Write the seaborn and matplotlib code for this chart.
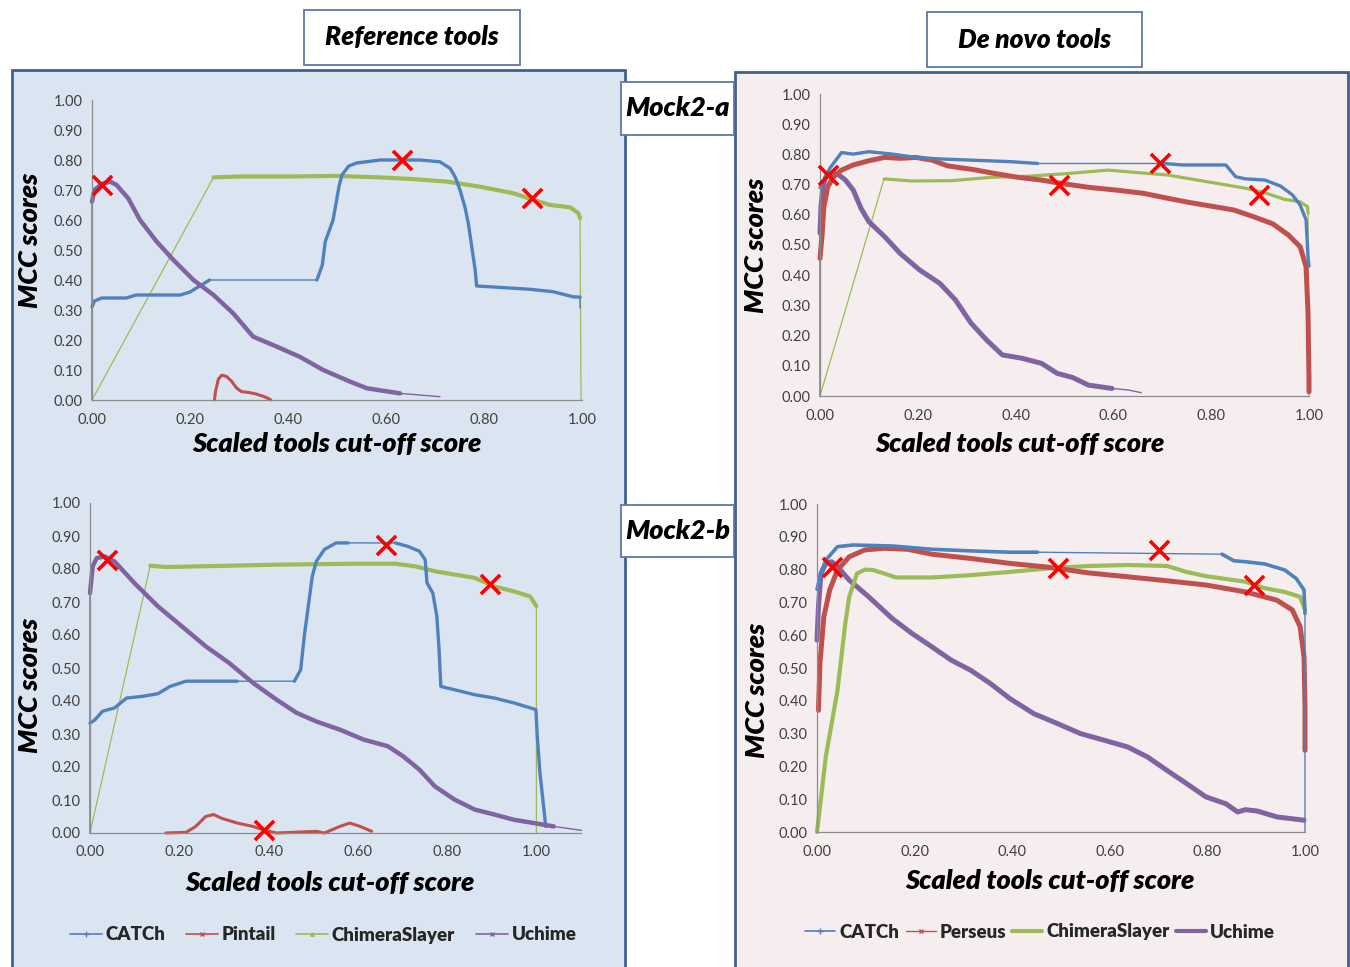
import matplotlib
matplotlib.use("Agg")
import matplotlib.pyplot as plt
from matplotlib.patches import Rectangle
from matplotlib.lines import Line2D
from matplotlib.ticker import FormatStrFormatter
import seaborn as sns

# colours (Excel 2007 palette)
BLUE = "#4f81bd"
RED = "#c0504d"
GREEN = "#9bbb59"
PURPLE = "#8064a2"

# 1: DATA - Mock2-a, reference tools
a_ref_catch_x = [0.0, 0.005, 0.02, 0.07, 0.09, 0.15, 0.18, 0.20, 0.22, 0.24, 0.30, 0.459, 0.47, 0.476,
                 0.492, 0.504, 0.51, 0.524, 0.54, 0.588, 0.669, 0.71, 0.731, 0.741, 0.751, 0.761, 0.768,
                 0.775, 0.782, 0.785, 0.826, 0.894, 0.941, 0.982, 0.996, 0.996]
a_ref_catch_y = [0.31, 0.33, 0.34, 0.34, 0.35, 0.35, 0.35, 0.36, 0.38, 0.40, 0.40, 0.40, 0.45, 0.528,
                 0.60, 0.711, 0.75, 0.78, 0.79, 0.80, 0.80, 0.794, 0.772, 0.744, 0.70, 0.644, 0.589,
                 0.511, 0.433, 0.38, 0.376, 0.369, 0.361, 0.344, 0.343, 0.306]
a_ref_pintail_x = [0.25, 0.252, 0.258, 0.265, 0.275, 0.285, 0.295, 0.305, 0.32, 0.335, 0.35, 0.36, 0.365]
a_ref_pintail_y = [0.0, 0.028, 0.07, 0.083, 0.078, 0.062, 0.04, 0.028, 0.025, 0.02, 0.012, 0.005, 0.0]
a_ref_slayer_x = [0.0, 0.248, 0.30, 0.40, 0.50, 0.588, 0.65, 0.724, 0.792, 0.86, 0.901, 0.935, 0.976,
                  0.993, 0.996, 0.998]
a_ref_slayer_y = [0.0, 0.742, 0.745, 0.745, 0.747, 0.742, 0.737, 0.728, 0.711, 0.689, 0.667, 0.65, 0.642,
                  0.622, 0.606, 0.0]
a_ref_uchime_x = [0.0, 0.0, 0.005, 0.02, 0.037, 0.05, 0.074, 0.098, 0.132, 0.166, 0.207, 0.248, 0.288,
                  0.329, 0.377, 0.424, 0.472, 0.527, 0.561, 0.629, 0.71]
a_ref_uchime_y = [0.0, 0.661, 0.70, 0.72, 0.728, 0.717, 0.672, 0.60, 0.528, 0.467, 0.40, 0.35, 0.289,
                  0.211, 0.178, 0.144, 0.10, 0.061, 0.039, 0.022, 0.011]
a_ref_best_x = [0.021, 0.632, 0.898]
a_ref_best_y = [0.717, 0.80, 0.673]

# 2: DATA - Mock2-a, de novo tools
a_dn_catch_x = [0.0, 0.02, 0.044, 0.068, 0.10, 0.148, 0.196, 0.245, 0.309, 0.389, 0.445, 0.702, 0.742,
                0.83, 0.85, 0.87, 0.91, 0.942, 0.966, 0.982, 0.994, 0.998, 1.0]
a_dn_catch_y = [0.69, 0.754, 0.806, 0.801, 0.809, 0.801, 0.79, 0.785, 0.781, 0.776, 0.77, 0.77, 0.765,
                0.765, 0.726, 0.719, 0.715, 0.695, 0.666, 0.632, 0.583, 0.461, 0.43]
a_dn_perseus_x = [0.0, 0.004, 0.008, 0.016, 0.028, 0.044, 0.068, 0.10, 0.132, 0.164, 0.196, 0.229, 0.261,
                  0.309, 0.357, 0.405, 0.453, 0.493, 0.549, 0.605, 0.662, 0.71, 0.758, 0.806, 0.846,
                  0.886, 0.926, 0.958, 0.982, 0.994, 0.998, 1.0, 1.0]
a_dn_perseus_y = [0.456, 0.528, 0.627, 0.693, 0.726, 0.748, 0.765, 0.779, 0.79, 0.787, 0.79, 0.781, 0.762,
                  0.751, 0.737, 0.724, 0.715, 0.704, 0.691, 0.682, 0.671, 0.655, 0.64, 0.627, 0.616,
                  0.594, 0.57, 0.533, 0.494, 0.428, 0.274, 0.053, 0.014]
a_dn_slayer_x = [0.0, 0.131, 0.188, 0.269, 0.349, 0.429, 0.509, 0.589, 0.67, 0.71, 0.79, 0.87, 0.91, 0.95,
                 0.982, 0.997, 0.998, 1.0]
a_dn_slayer_y = [0.0, 0.719, 0.712, 0.713, 0.724, 0.728, 0.737, 0.748, 0.737, 0.732, 0.71, 0.688, 0.673,
                 0.651, 0.643, 0.627, 0.605, 0.0]
a_dn_uchime_x = [0.0, 0.0, 0.002, 0.006, 0.012, 0.024, 0.036, 0.052, 0.068, 0.084, 0.10, 0.132, 0.164,
                 0.204, 0.245, 0.277, 0.309, 0.341, 0.373, 0.413, 0.453, 0.485, 0.517, 0.549, 0.597,
                 0.63, 0.657]
a_dn_uchime_y = [0.0, 0.539, 0.627, 0.693, 0.726, 0.737, 0.735, 0.715, 0.682, 0.621, 0.577, 0.528, 0.472,
                 0.417, 0.373, 0.318, 0.241, 0.185, 0.136, 0.125, 0.108, 0.075, 0.061, 0.036, 0.025,
                 0.02, 0.011]
a_dn_best_x = [0.016, 0.489, 0.696, 0.898]
a_dn_best_y = [0.732, 0.699, 0.77, 0.666]

# 3: DATA - Mock2-b, reference tools
b_ref_catch_x = [0.0, 0.011, 0.028, 0.055, 0.082, 0.117, 0.152, 0.179, 0.215, 0.259, 0.33, 0.458, 0.472,
                 0.48, 0.489, 0.498, 0.507, 0.525, 0.551, 0.578, 0.684, 0.711, 0.738, 0.751, 0.755,
                 0.768, 0.777, 0.782, 0.786, 0.817, 0.862, 0.906, 0.95, 0.999, 1.002, 1.008, 1.017, 1.021]
b_ref_catch_y = [0.333, 0.343, 0.369, 0.379, 0.409, 0.414, 0.422, 0.444, 0.46, 0.46, 0.46, 0.46, 0.495,
                 0.596, 0.687, 0.778, 0.823, 0.859, 0.879, 0.879, 0.879, 0.869, 0.854, 0.828, 0.758,
                 0.727, 0.657, 0.556, 0.444, 0.434, 0.419, 0.409, 0.394, 0.374, 0.293, 0.182, 0.071, 0.02]
b_ref_pintail_x = [0.17, 0.215, 0.237, 0.259, 0.277, 0.294, 0.33, 0.365, 0.392, 0.418, 0.507, 0.525,
                   0.56, 0.582, 0.605, 0.631]
b_ref_pintail_y = [0.0, 0.002, 0.02, 0.05, 0.056, 0.045, 0.03, 0.02, 0.008, 0.0, 0.005, 0.0, 0.02, 0.03,
                   0.02, 0.005]
b_ref_slayer_x = [0.0, 0.135, 0.17, 0.241, 0.418, 0.596, 0.684, 0.729, 0.773, 0.862, 0.906, 0.95, 0.986,
                  1.0, 1.0]
b_ref_slayer_y = [0.0, 0.81, 0.806, 0.808, 0.813, 0.816, 0.816, 0.808, 0.793, 0.773, 0.747, 0.732, 0.717,
                  0.687, 0.0]
b_ref_uchime_x = [0.0, 0.0, 0.006, 0.015, 0.033, 0.055, 0.099, 0.152, 0.206, 0.259, 0.312, 0.365, 0.418,
                  0.463, 0.507, 0.56, 0.613, 0.667, 0.702, 0.738, 0.773, 0.817, 0.862, 0.906, 0.95,
                  0.995, 1.039, 1.101]
b_ref_uchime_y = [0.0, 0.727, 0.808, 0.833, 0.838, 0.823, 0.758, 0.687, 0.626, 0.566, 0.515, 0.455, 0.404,
                  0.364, 0.338, 0.313, 0.283, 0.263, 0.232, 0.192, 0.141, 0.101, 0.071, 0.056, 0.04,
                  0.03, 0.02, 0.008]
b_ref_best_x = [0.037, 0.664, 0.897, 0.39]
b_ref_best_y = [0.826, 0.874, 0.756, 0.008]

# 4: DATA - Mock2-b, de novo tools
b_dn_catch_x = [0.0, 0.006, 0.018, 0.042, 0.074, 0.154, 0.235, 0.315, 0.395, 0.452, 0.83, 0.854, 0.878,
                0.918, 0.958, 0.982, 0.998, 1.0, 1.0]
b_dn_catch_y = [0.74, 0.778, 0.829, 0.87, 0.875, 0.872, 0.862, 0.857, 0.853, 0.853, 0.847, 0.827, 0.824,
                0.817, 0.799, 0.773, 0.738, 0.666, 0.0]
b_dn_perseus_x = [0.003, 0.006, 0.014, 0.026, 0.042, 0.066, 0.098, 0.138, 0.186, 0.235, 0.315, 0.395,
                  0.476, 0.556, 0.637, 0.717, 0.797, 0.878, 0.942, 0.974, 0.99, 0.998, 1.0, 1.0]
b_dn_perseus_y = [0.371, 0.514, 0.656, 0.738, 0.799, 0.839, 0.86, 0.865, 0.862, 0.847, 0.834, 0.819,
                  0.807, 0.79, 0.778, 0.766, 0.753, 0.732, 0.707, 0.677, 0.626, 0.534, 0.381, 0.249]
b_dn_slayer_x = [0.0, 0.018, 0.042, 0.058, 0.066, 0.082, 0.098, 0.114, 0.138, 0.162, 0.235, 0.315, 0.395,
                 0.476, 0.556, 0.637, 0.717, 0.757, 0.797, 0.878, 0.918, 0.958, 0.99, 1.0]
b_dn_slayer_y = [0.0, 0.229, 0.432, 0.636, 0.717, 0.788, 0.80, 0.799, 0.788, 0.776, 0.776, 0.783, 0.793,
                 0.804, 0.811, 0.814, 0.811, 0.793, 0.78, 0.763, 0.743, 0.732, 0.717, 0.677]
b_dn_uchime_x = [0.0, 0.003, 0.008, 0.018, 0.03, 0.042, 0.066, 0.106, 0.154, 0.195, 0.235, 0.275, 0.315,
                 0.355, 0.395, 0.444, 0.492, 0.54, 0.588, 0.637, 0.677, 0.717, 0.757, 0.797, 0.838,
                 0.862, 0.878, 0.902, 0.942, 0.998]
b_dn_uchime_y = [0.585, 0.687, 0.788, 0.819, 0.824, 0.809, 0.768, 0.717, 0.651, 0.605, 0.565, 0.524,
                 0.493, 0.453, 0.407, 0.361, 0.331, 0.30, 0.28, 0.259, 0.229, 0.188, 0.148, 0.107, 0.086,
                 0.061, 0.068, 0.064, 0.046, 0.036]
b_dn_best_x = [0.03, 0.494, 0.701, 0.895]
b_dn_best_y = [0.809, 0.804, 0.86, 0.753]

# 5: STYLE
sns.set_theme(style="white")
plt.rcParams["font.family"] = ["Lato", "DejaVu Sans"]

W, H = 1350, 967
fig = plt.figure(figsize=(W / 100, H / 100), dpi=100)
fig.patch.set_facecolor("white")


def fx(px):
    return px / W


def fy(py):
    return 1 - py / H


def draw_line(ax, x, y, color, lw, thin_lw=None, thick=None):
    # whole series thin, then the dense parts thick
    if thick is None:
        sns.lineplot(x=x, y=y, ax=ax, color=color, lw=lw, sort=False, estimator=None,
                     legend=False, clip_on=False, solid_capstyle="round")
        return
    sns.lineplot(x=x, y=y, ax=ax, color=color, lw=thin_lw, sort=False, estimator=None,
                 legend=False, clip_on=False)
    for i0, i1 in thick:
        sns.lineplot(x=x[i0:i1 + 1], y=y[i0:i1 + 1], ax=ax, color=color, lw=lw, sort=False,
                     estimator=None, legend=False, clip_on=False, solid_capstyle="round")


def style_axes(ax, xmax):
    ax.set_facecolor("none")
    ax.set_xlim(0, xmax)
    ax.set_ylim(0, 1.0)
    ax.set_xticks([0, 0.2, 0.4, 0.6, 0.8, 1.0])
    ax.set_yticks([i / 10 for i in range(11)])
    ax.xaxis.set_major_formatter(FormatStrFormatter("%.2f"))
    ax.yaxis.set_major_formatter(FormatStrFormatter("%.2f"))
    for s in ["top", "right"]:
        ax.spines[s].set_visible(False)
    for s in ["left", "bottom"]:
        ax.spines[s].set_color("#8c8c8c")
        ax.spines[s].set_linewidth(0.9)
    ax.tick_params(axis="both", direction="out", length=4, width=0.8, color="#8c8c8c",
                   labelsize=10.5, labelcolor="#404040", pad=3)
    ax.tick_params(axis="x", pad=5)
    ax.set_xlabel("")
    ax.set_ylabel("")


def best_marks(ax, x, y):
    sns.scatterplot(x=x, y=y, ax=ax, marker="x", s=190, color="#ff0000", linewidth=2.6,
                    zorder=10, clip_on=False, legend=False)


# background panels
fig.add_artist(Rectangle((fx(12), -0.02), fx(625) - fx(12), fy(70) + 0.02, transform=fig.transFigure,
                         facecolor="#dbe5f1", edgecolor="#3f6190", lw=2.0, zorder=-5))
fig.add_artist(Rectangle((fx(735), -0.02), fx(1348) - fx(735), fy(72) + 0.02, transform=fig.transFigure,
                         facecolor="#f6eeee", edgecolor="#3f6190", lw=2.0, zorder=-5))

# title boxes
boxes = [("Reference tools", 304, 520, 10, 65, 19),
         ("De novo tools", 927, 1142, 12, 67, 19),
         ("Mock2-a", 621, 734, 82, 135, 19.5),
         ("Mock2-b", 621, 734, 505, 557, 19.5)]
for label, x0, x1, y0, y1, fs in boxes:
    fig.add_artist(Rectangle((fx(x0), fy(y1)), fx(x1) - fx(x0), fy(y0) - fy(y1),
                             transform=fig.transFigure, facecolor="white", edgecolor="#5a78a6",
                             lw=1.3, zorder=5))
    fig.text(fx((x0 + x1) / 2), fy((y0 + y1) / 2), label, ha="center", va="center", fontsize=fs,
             fontweight="heavy", fontstyle="italic", color="black", zorder=6)

# axes positions in pixels: left, right, top, bottom
ax_tl = fig.add_axes([fx(92), fy(400), fx(582) - fx(92), fy(100) - fy(400)])
ax_tr = fig.add_axes([fx(820), fy(396), fx(1309) - fx(820), fy(94) - fy(396)])
ax_bl = fig.add_axes([fx(90), fy(833), fx(581) - fx(90), fy(503) - fy(833)])
ax_br = fig.add_axes([fx(817), fy(832), fx(1305) - fx(817), fy(504) - fy(832)])

# 6: MOCK2-A REFERENCE
draw_line(ax_tl, a_ref_slayer_x, a_ref_slayer_y, GREEN, 3.0, 0.9, [(1, 14)])
draw_line(ax_tl, a_ref_catch_x, a_ref_catch_y, BLUE, 2.4, 1.0, [(0, 9), (11, 34)])
draw_line(ax_tl, a_ref_pintail_x, a_ref_pintail_y, RED, 2.2)
draw_line(ax_tl, a_ref_uchime_x, a_ref_uchime_y, PURPLE, 3.2, 1.0, [(1, 19)])
best_marks(ax_tl, a_ref_best_x, a_ref_best_y)
style_axes(ax_tl, 1.0)

# 7: MOCK2-A DE NOVO
draw_line(ax_tr, a_dn_slayer_x, a_dn_slayer_y, GREEN, 2.3, 0.9, [(1, 16)])
draw_line(ax_tr, a_dn_uchime_x, a_dn_uchime_y, PURPLE, 3.6, 1.0, [(1, 24)])
draw_line(ax_tr, a_dn_perseus_x, a_dn_perseus_y, RED, 3.6)
draw_line(ax_tr, a_dn_catch_x, a_dn_catch_y, BLUE, 2.4, 1.0, [(0, 10), (11, 22)])
best_marks(ax_tr, a_dn_best_x, a_dn_best_y)
style_axes(ax_tr, 1.0)

# 8: MOCK2-B REFERENCE
draw_line(ax_bl, b_ref_slayer_x, b_ref_slayer_y, GREEN, 3.0, 0.9, [(1, 13)])
draw_line(ax_bl, b_ref_catch_x, b_ref_catch_y, BLUE, 2.4, 1.0, [(0, 10), (11, 19), (20, 37)])
draw_line(ax_bl, b_ref_pintail_x, b_ref_pintail_y, RED, 2.2)
draw_line(ax_bl, b_ref_uchime_x, b_ref_uchime_y, PURPLE, 3.2, 1.0, [(1, 26)])
best_marks(ax_bl, b_ref_best_x, b_ref_best_y)
style_axes(ax_bl, 1.1)

# 9: MOCK2-B DE NOVO
draw_line(ax_br, b_dn_uchime_x, b_dn_uchime_y, PURPLE, 3.6)
draw_line(ax_br, b_dn_slayer_x, b_dn_slayer_y, GREEN, 3.0)
draw_line(ax_br, b_dn_perseus_x, b_dn_perseus_y, RED, 3.6)
draw_line(ax_br, b_dn_catch_x, b_dn_catch_y, BLUE, 2.6, 1.0, [(0, 9), (10, 17)])
best_marks(ax_br, b_dn_best_x, b_dn_best_y)
style_axes(ax_br, 1.0)

# axis titles
lab_kw = dict(fontsize=19.5, fontweight="heavy", fontstyle="italic", color="black")
for cx, cy in [(30, 240), (756, 245), (30, 685), (757, 690)]:
    fig.text(fx(cx), fy(cy), "MCC scores", rotation=90, ha="center", va="center", **lab_kw)
for cx, cy in [(337, 444), (1020, 444), (330, 883), (1050, 881)]:
    fig.text(fx(cx), fy(cy), "Scaled tools cut-off score", ha="center", va="center", **lab_kw)

# legends
left_handles = [Line2D([], [], color=BLUE, lw=1.2, marker="+", ms=4),
                Line2D([], [], color=RED, lw=1.2, marker="x", ms=3),
                Line2D([], [], color=GREEN, lw=1.2, marker="^", ms=2.5),
                Line2D([], [], color=PURPLE, lw=1.2, marker="x", ms=3)]
right_handles = [Line2D([], [], color=BLUE, lw=1.2, marker="+", ms=4),
                 Line2D([], [], color=RED, lw=1.0, marker="x", ms=3),
                 Line2D([], [], color=GREEN, lw=3.0),
                 Line2D([], [], color=PURPLE, lw=3.0)]
leg_kw = dict(loc="center", ncol=4, frameon=False, handlelength=1.7, handletextpad=0.2,
              columnspacing=1.1, prop={"weight": "heavy", "size": 13.5})
fig.legend(left_handles, ["CATCh", "Pintail", "ChimeraSlayer", "Uchime"],
           bbox_to_anchor=(fx(323), fy(935)), **leg_kw)
leg_kw["columnspacing"] = 0.35
leg_kw["handlelength"] = 1.6
fig.legend(right_handles, ["CATCh", "Perseus", "ChimeraSlayer", "Uchime"],
           bbox_to_anchor=(fx(1040), fy(932)), **leg_kw)

plt.savefig("out.png", dpi=100, facecolor="white")
